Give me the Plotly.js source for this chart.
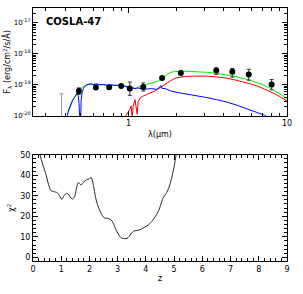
<!DOCTYPE html>
<html><head><meta charset="utf-8">
<script src="https://cdn.plot.ly/plotly-3.0.1.min.js"></script>
<style>html,body{margin:0;padding:0;background:#fff}#c{width:303px;height:294px}</style>
</head><body><div id="c"></div>
<script>
// ---- SED data (wavelength in micron, log10 of F_lambda) ----
const blueLam = [0.405,0.415,0.425,0.435,0.445,0.455,0.465,0.475,0.482,0.488,0.493,0.499,0.503,0.510,0.52,0.53,0.545,0.56,0.58,0.60,0.63,0.66,0.70,0.74,0.78,0.82,0.86,0.90,0.95,1.00,1.05,1.10,1.15,1.20,1.30,1.40,1.50,1.56,1.60,1.63,1.70,1.85,2.0,2.3,2.7,3.1,3.6,4.2,4.9,5.6,6.4,7.2,8.0];
const blueLogF = [-20.2,-19.9,-19.75,-19.6,-19.5,-19.42,-19.32,-19.27,-19.35,-19.6,-20.2,-20.2,-19.5,-19.25,-19.12,-19.05,-19.0,-18.98,-18.97,-18.99,-18.97,-19.0,-18.99,-19.02,-19.0,-19.02,-19.01,-19.03,-19.05,-19.08,-19.1,-19.12,-19.1,-19.13,-19.14,-19.12,-19.15,-19.1,-19.02,-19.12,-19.12,-19.2,-19.24,-19.29,-19.35,-19.41,-19.48,-19.56,-19.67,-19.78,-19.88,-19.98,-20.1];

const redLam = [0.92,0.96,0.99,1.02,1.04,1.055,1.07,1.10,1.12,1.135,1.15,1.19,1.23,1.27,1.32,1.37,1.42,1.47,1.52,1.57,1.63,1.70,1.76,1.82,1.90,2.0,2.1,2.25,2.5,2.8,3.1,3.5,4.0,4.6,5.3,6.0,6.8,7.5,8.2,9.0,10.0];
const redLogF = [-20.2,-20.0,-19.9,-19.8,-19.68,-20.1,-19.7,-19.48,-19.7,-19.95,-19.55,-19.41,-19.37,-19.34,-19.32,-19.29,-19.24,-19.2,-19.15,-19.1,-19.06,-18.98,-18.93,-18.88,-18.83,-18.78,-18.75,-18.73,-18.72,-18.71,-18.72,-18.74,-18.77,-18.83,-18.9,-18.98,-19.08,-19.17,-19.27,-19.38,-19.52];

const greenLam = [0.405,0.415,0.425,0.435,0.445,0.46,0.475,0.49,0.51,0.53,0.56,0.60,0.66,0.74,0.82,0.90,0.96,1.00,1.04,1.08,1.11,1.14,1.2,1.27,1.35,1.43,1.50,1.57,1.63,1.70,1.76,1.82,1.9,2.0,2.2,2.5,2.8,3.2,3.6,4.1,4.7,5.4,6.2,7.0,7.8,8.6,9.3,10.0];
const greenLogF = [-20.2,-19.88,-19.72,-19.58,-19.48,-19.38,-19.27,-19.2,-19.1,-19.03,-18.98,-18.98,-18.99,-19.01,-19.01,-19.02,-19.04,-19.06,-19.06,-19.1,-19.14,-19.08,-19.04,-19.01,-18.98,-18.94,-18.9,-18.86,-18.81,-18.73,-18.66,-18.61,-18.58,-18.57,-18.56,-18.57,-18.58,-18.6,-18.63,-18.67,-18.73,-18.8,-18.89,-18.99,-19.1,-19.22,-19.34,-19.47];

// photometry: wavelength, log flux, log upper end, log lower end
const photLam = [0.487,0.623,0.756,0.90,1.02,1.24,1.63,2.14,3.58,4.52,5.74,8.0];
const photLogF = [-19.20,-19.09,-19.08,-19.04,-19.12,-19.07,-18.78,-18.62,-18.54,-18.58,-18.67,-18.99];
const photLogHi = [-19.10,-19.05,-19.04,-19.01,-18.91,-18.94,-18.75,-18.59,-18.455,-18.475,-18.50,-18.83];
const photLogLo = [-19.31,-19.13,-19.12,-19.07,-19.34,-19.20,-18.81,-18.65,-18.66,-18.75,-18.85,-19.16];

// upper limit (grey)
const limLam = [0.378];
const limLogTop = [-19.29];
const limLogF = [-19.7];

// ---- chi^2 vs redshift ----
const zVals = [0.22,0.25,0.35,0.45,0.55,0.63,0.74,0.86,0.95,1.01,1.09,1.18,1.27,1.33,1.39,1.47,1.53,1.60,1.66,1.71,1.80,1.90,1.98,2.06,2.11,2.15,2.21,2.27,2.33,2.39,2.46,2.53,2.65,2.72,2.79,2.86,2.92,2.98,3.04,3.10,3.16,3.25,3.33,3.40,3.47,3.57,3.68,3.78,3.90,4.04,4.15,4.27,4.36,4.45,4.53,4.60,4.72,4.80,4.86,4.92,4.98,5.03,5.07,5.10];
const chi2 = [53,50,45,40.9,35.5,32.6,32,31.5,29.8,28.3,29.8,31.2,30.6,29.2,28.4,29.5,33,36.4,35.8,35.2,36.8,37.8,38.2,38.9,37.2,34.4,29.8,26.3,24,22.2,20.3,19.2,19.0,18.6,17.9,16.1,14.1,12.4,10.9,9.8,9.3,9.1,9.2,10.1,11.4,12.8,13.1,13.4,14.3,15.3,16.6,18.5,20.5,22.7,25.8,28.7,31.2,33.4,36,39,42.9,46.5,50,53];

const xTicksMajor = [1,10];
const xTickText = ['1','10'];
const yTicksMajor = [1e-20,1e-19,1e-18,1e-17];
const yTickText = ['10<sup>-20</sup>','10<sup>-19</sup>','10<sup>-18</sup>','10<sup>-17</sup>'];

const p = v => Math.pow(10, v);
const xMinor = [0.3,0.4,0.5,0.6,0.7,0.8,0.9,2,3,4,5,6,7,8,9];
const yMinor = [];
[-20,-19,-18,-17].forEach(d => { for (let k = 2; k <= 9; k++) yMinor.push(k * Math.pow(10, d)); });

const pf = photLogF.map(p);
const errUp = photLogHi.map((v,i) => p(v) - pf[i]);
const errDn = photLogLo.map((v,i) => pf[i] - p(v));

const traces = [
  {x: greenLam, y: greenLogF.map(p), type:'scatter', mode:'lines', line:{color:'#00ee00', width:1}, xaxis:'x', yaxis:'y', hoverinfo:'skip'},
  {x: redLam, y: redLogF.map(p), type:'scatter', mode:'lines', line:{color:'#ff0000', width:1}, xaxis:'x', yaxis:'y', hoverinfo:'skip'},
  {x: blueLam, y: blueLogF.map(p), type:'scatter', mode:'lines', line:{color:'#0000ff', width:1}, xaxis:'x', yaxis:'y', hoverinfo:'skip'},
  {x: limLam, y: limLogF.map(p), type:'scatter', mode:'markers', marker:{size:1, opacity:0},
   error_y:{type:'data', symmetric:false, array: limLogTop.map((v,i)=>p(v)-p(limLogF[i])), arrayminus: limLogF.map(p), color:'#999999', thickness:1, width:2},
   xaxis:'x', yaxis:'y', hoverinfo:'skip'},
  {x: photLam, y: pf, type:'scatter', mode:'markers', marker:{color:'#000', size:6, symbol:'circle'},
   error_y:{type:'data', symmetric:false, array: errUp, arrayminus: errDn, color:'#333', thickness:1, width:2},
   xaxis:'x', yaxis:'y', hoverinfo:'skip'},
  {x: zVals, y: chi2, type:'scatter', mode:'lines', line:{color:'#222', width:1, shape:'spline', smoothing:0.6}, xaxis:'x2', yaxis:'y2', hoverinfo:'skip'}
];

const fnt = {family:'DejaVu Sans, Arial, sans-serif', size:8, color:'#000'};
const axBase = {showline:true, linecolor:'#000', linewidth:1, mirror:'allticks', ticks:'inside', ticklen:5, tickwidth:1, tickcolor:'#000', showgrid:false, zeroline:false, tickfont:fnt};

const layout = {
  width:303, height:294, paper_bgcolor:'#fff', plot_bgcolor:'#fff', showlegend:false,
  margin:{l:33, r:16, t:8, b:33},
  xaxis: Object.assign({}, axBase, {type:'log', range:[Math.log10(0.25), 1], domain:[0,1], anchor:'y', tickmode:'array', tickvals:xTicksMajor, ticktext:xTickText,
    minor:{tickmode:'array', tickvals:xMinor, ticks:'inside', ticklen:3, tickcolor:'#000'},
    title:{text:'λ(μm)', font:fnt, standoff:4}}),
  yaxis: Object.assign({}, axBase, {type:'log', range:[-20, -16.52], domain:[0.574,1], anchor:'x', tickmode:'array', tickvals:yTicksMajor, ticktext:yTickText,
    tickfont:{family:fnt.family, size:7, color:'#000'},
    minor:{tickmode:'array', tickvals:yMinor, ticks:'inside', ticklen:3, tickcolor:'#000'},
    title:{text:'F<sub>λ</sub> (erg/cm<sup>2</sup>/s/Å)', font:{family:fnt.family, size:8, color:'#000'}, standoff:1}}),
  xaxis2: Object.assign({}, axBase, {range:[0,9], domain:[0,1], anchor:'y2', dtick:1, tick0:0,
    minor:{dtick:0.2, ticks:'inside', ticklen:3, tickcolor:'#000'},
    title:{text:'z', font:fnt, standoff:2}}),
  yaxis2: Object.assign({}, axBase, {range:[-1.8,50], domain:[0,0.42], anchor:'x2', dtick:10, tick0:0,
    minor:{dtick:2, ticks:'inside', ticklen:3, tickcolor:'#000'},
    title:{text:'χ<sup>2</sup>', font:fnt, standoff:4}}),
  annotations:[{text:'<b>COSLA-47</b>', xref:'paper', yref:'paper', x:0.045, y:0.975, xanchor:'left', yanchor:'top', showarrow:false,
    font:{family:'DejaVu Sans, Arial, sans-serif', size:10, color:'#000'}}]
};

Plotly.newPlot('c', traces, layout, {staticPlot:true, displayModeBar:false});
</script></body></html>
